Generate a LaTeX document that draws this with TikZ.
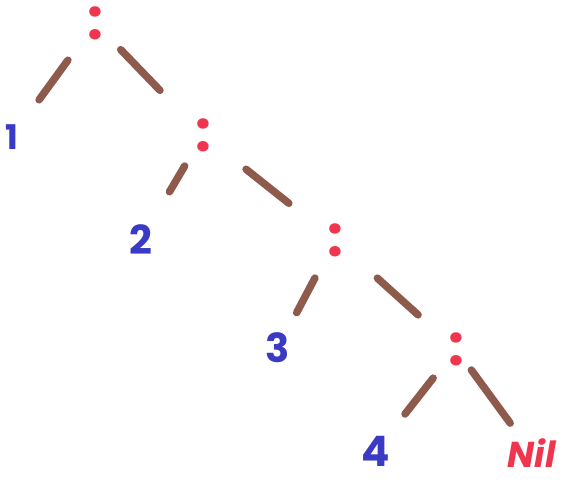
\documentclass[tikz,border=0pt]{standalone}
\usepackage{fontspec}
\setmainfont{Poppins}
\usepackage{tikz}
\usetikzlibrary{arrows.meta,positioning}
\definecolor{ConsRed}{HTML}{F0364E}
\definecolor{ElemBlue}{HTML}{3A3AC4}
\definecolor{BranchBrown}{HTML}{8E5A4C}

\begin{document}
\begin{tikzpicture}[
  x=1pt, y=-1pt,
  cons/.style={text=ConsRed, inner sep=0pt, font=\fontsize{56}{56}\selectfont\bfseries},
  elem/.style={text=ElemBlue, inner sep=0pt, font=\fontsize{40}{40}\selectfont\bfseries},
  nilbox/.style={text=ConsRed, inner sep=0pt, font=\fontsize{36}{36}\selectfont\bfseries\itshape},
  branch/.style={draw=BranchBrown, line width=7.5pt, line cap=round}
]
  \useasboundingbox (0,0) rectangle (561,480);
  \node[cons] (c1) at (95,23) {:};
  \node[cons] (c2) at (203,135) {:};
  \node[cons] (c3) at (335,240) {:};
  \node[cons] (c4) at (456,349) {:};
  \node[elem, font=\fontsize{34}{34}\selectfont\bfseries] (n1) at (12,137) {1};
  \node[elem] (n2) at (141,240) {2};
  \node[elem] (n3) at (278,348) {3};
  \node[elem, font=\fontsize{42}{42}\selectfont\bfseries] (n4) at (376,451) {4};
  \node[nilbox] (nil) at (532,453) {Nil};
  \draw[branch, shorten <=46pt, shorten >=46pt] (c1.center) -- (n1.center);
  \draw[branch, shorten <=37pt, shorten >=62pt] (c1.center) -- (c2.center);
  \draw[branch, shorten <=36pt, shorten >=56pt] (c2.center) -- (n2.center);
  \draw[branch, shorten <=55pt, shorten >=59pt] (c2.center) -- (c3.center);
  \draw[branch, shorten <=43pt, shorten >=40pt] (c3.center) -- (n3.center);
  \draw[branch, shorten <=57pt, shorten >=51pt] (c3.center) -- (c4.center);
  \draw[branch, shorten <=37pt, shorten >=47pt] (c4.center) -- (n4.center);
  \draw[branch, shorten <=26pt, shorten >=37pt] (c4.center) -- (nil.center);
\end{tikzpicture}
\end{document}
